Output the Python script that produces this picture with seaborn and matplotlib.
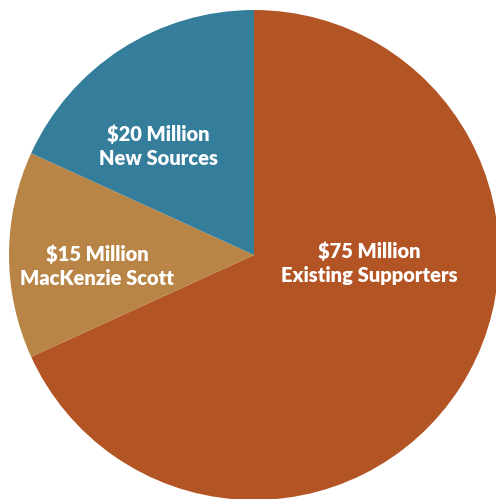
import matplotlib
matplotlib.use("Agg")
import seaborn as sns
import matplotlib.pyplot as plt

# slice data (clockwise from 12 o'clock)
amounts = [75, 15, 20]
amount_labels = ["$75 Million", "$15 Million", "$20 Million"]
sources = ["Existing Supporters", "MacKenzie Scott", "New Sources"]
colors = ["#B35425", "#B98546", "#347E9C"]

sns.set_theme(style="white")
plt.rcParams['font.family'] = ['Lato', 'DejaVu Sans']

fig = plt.figure(figsize=(4.96, 4.99), dpi=100)
ax = fig.add_axes([9 / 496, -1 / 499, 490 / 496, 490 / 499])

wedges, _ = ax.pie(amounts, colors=colors, startangle=90, counterclock=False,
                   radius=1, wedgeprops=dict(linewidth=0))

# label spots inside each slice
label_pos = [(0.47, -0.035), (-0.64, -0.045), (-0.39, 0.445)]
for (x, y), a, s in zip(label_pos, amount_labels, sources):
    ax.text(x, y, a + "\n" + s, ha='center', va='center', color='white',
            fontsize=14.5, fontweight='heavy', linespacing=1.3)

ax.set_xlim(-1, 1)
ax.set_ylim(-1, 1)
ax.set_aspect('auto')
ax.axis('off')

fig.savefig('out.png', dpi=100)
